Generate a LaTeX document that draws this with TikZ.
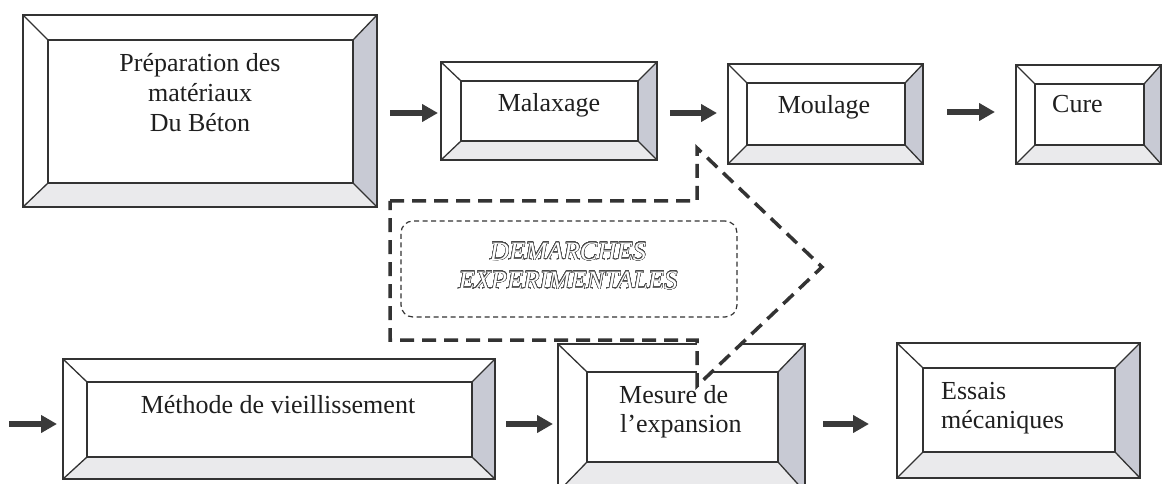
\documentclass[tikz,border=0pt]{standalone}
\usepackage{fontspec}
\setmainfont{Liberation Serif}
\usepackage{contour}
\contourlength{0.45pt}
\contournumber{32}
\usetikzlibrary{arrows.meta,fit,calc}

\definecolor{ink}{HTML}{333333}
\definecolor{outc}{HTML}{4A4A4A}
\definecolor{rbev}{RGB}{200,202,212}
\definecolor{bbev}{RGB}{234,234,236}
\definecolor{arrowc}{HTML}{3A3A3A}

\tikzset{
  edge/.style={ink, line width=1.6pt, line join=miter},
  diag/.style={ink, line width=1.3pt},
  blk/.style={arrowc, line width=6pt, -{Triangle[length=16pt,width=17pt]}},
  bigarrow/.style={ink, line width=3.5pt, dash pattern=on 14pt off 8pt, fill=white, line join=miter},
  inframe/.style={ink, line width=1.2pt, dash pattern=on 5pt off 3.5pt, rounded corners=12pt, inner sep=0pt},
  lbl/.style={font=\fontsize{26}{30}\selectfont, inner sep=0pt, text=black!88},
  outl/.style={font=\fontsize{26.5}{30}\selectfont\itshape, inner sep=0pt, text=white},
  hold/.style={inner sep=0pt, outer sep=0pt},
}

% #1 name; #2,#3 outer NW; #4,#5 outer SE; #6,#7 inner NW; #8,#9 inner SE (pixel units)
\newcommand\bevelbox[9]{%
  \coordinate (#1-a) at (#2,#3);
  \coordinate (#1-b) at (#4,#5);
  \coordinate (#1-c) at (#6,#7);
  \coordinate (#1-d) at (#8,#9);
  \node[hold, fit=(#1-a)(#1-b)] (#1) {};
  \node[hold, fit=(#1-c)(#1-d)] (#1-in) {};
  \fill[rbev] (#1.north east) -- (#1.south east) -- (#1-in.south east) -- (#1-in.north east) -- cycle;
  \fill[bbev] (#1.south west) -- (#1.south east) -- (#1-in.south east) -- (#1-in.south west) -- cycle;
  \draw[edge] (#1.north west) rectangle (#1.south east);
  \draw[edge] (#1-in.north west) rectangle (#1-in.south east);
  \draw[diag] (#1.north west) -- (#1-in.north west);
  \draw[diag] (#1.north east) -- (#1-in.north east);
  \draw[diag] (#1.south west) -- (#1-in.south west);
  \draw[diag] (#1.south east) -- (#1-in.south east);
}

\newcommand\outltxt[1]{\contour{outc}{#1}}

\begin{document}
\begin{tikzpicture}[x=1pt,y=-1pt]
\useasboundingbox (0,0) rectangle (1163,484);
\clip (0,0) rectangle (1163,484);

% boxes
\bevelbox{prep}{23}{15}{377}{207}{48}{40}{353}{183}
\bevelbox{mal}{441}{62}{657}{160}{461}{81}{638}{141}
\bevelbox{moul}{728}{64}{923}{164}{747}{83}{905}{145}
\bevelbox{cure}{1016}{65}{1161}{164}{1035}{84}{1144}{145}
\bevelbox{met}{63}{359}{495}{479}{87}{382}{472}{457}
\bevelbox{mes}{558}{344}{805}{492}{587}{372}{778}{462}
\bevelbox{ess}{897}{343}{1140}{478}{923}{368}{1115}{452}

% labels
\node[lbl, anchor=base] (prep-l1) at (200,72) {Préparation des};
\node[lbl, anchor=base] (prep-l2) at (200,102) {matériaux};
\node[lbl, anchor=base] (prep-l3) at (200,132) {Du Béton};
\node[lbl, anchor=base] (mal-l) at (549,112) {Malaxage};
\node[lbl, anchor=base] (moul-l) at (824,114) {Moulage};
\node[lbl, anchor=base west] (cure-l) at (1052,113) {Cure};
\node[lbl, anchor=base] (met-l) at (278,413) {Méthode de vieillissement};
\node[lbl, anchor=base west] (mes-l1) at (619,403) {Mesure de};
\node[lbl, anchor=base west] (mes-l2) at (620,432) {l’expansion};
\node[lbl, anchor=base west] (ess-l1) at (941,399) {Essais};
\node[lbl, anchor=base west] (ess-l2) at (941,428) {mécaniques};

% block arrows
\coordinate (in0) at (9,424);
\draw[blk] ($(prep.east)+(13,2)$) -- ($(mal.west)+(-3,2)$);
\draw[blk] ($(mal.east)+(13,2)$) -- ($(moul.west)+(-11,-1)$);
\draw[blk] ($(moul.east)+(24,-2)$) -- ($(cure.west)+(-21,-2.5)$);
\draw[blk] (in0) -- ($(met.west)+(-6,5)$);
\draw[blk] ($(met.east)+(11,5)$) -- ($(mes.west)+(-5,6)$);
\draw[blk] ($(mes.east)+(18,6)$) -- ($(ess.west)+(-28,13.5)$);

% large dashed arrow
\draw[bigarrow] (390,201) -- (697,201) -- (697,148) -- (822,267) -- (697,386) -- (697,340) -- (390,340) -- cycle;

% inner dashed frame and title
\node[inframe, draw, minimum width=336pt, minimum height=96pt] (dem) at (569,269) {};
\node[outl, anchor=base] (dem-l1) at (568,260) {\outltxt{DEMARCHES}};
\node[outl, anchor=base] (dem-l2) at (568,289) {\outltxt{EXPERIMENTALES}};
\end{tikzpicture}
\end{document}
